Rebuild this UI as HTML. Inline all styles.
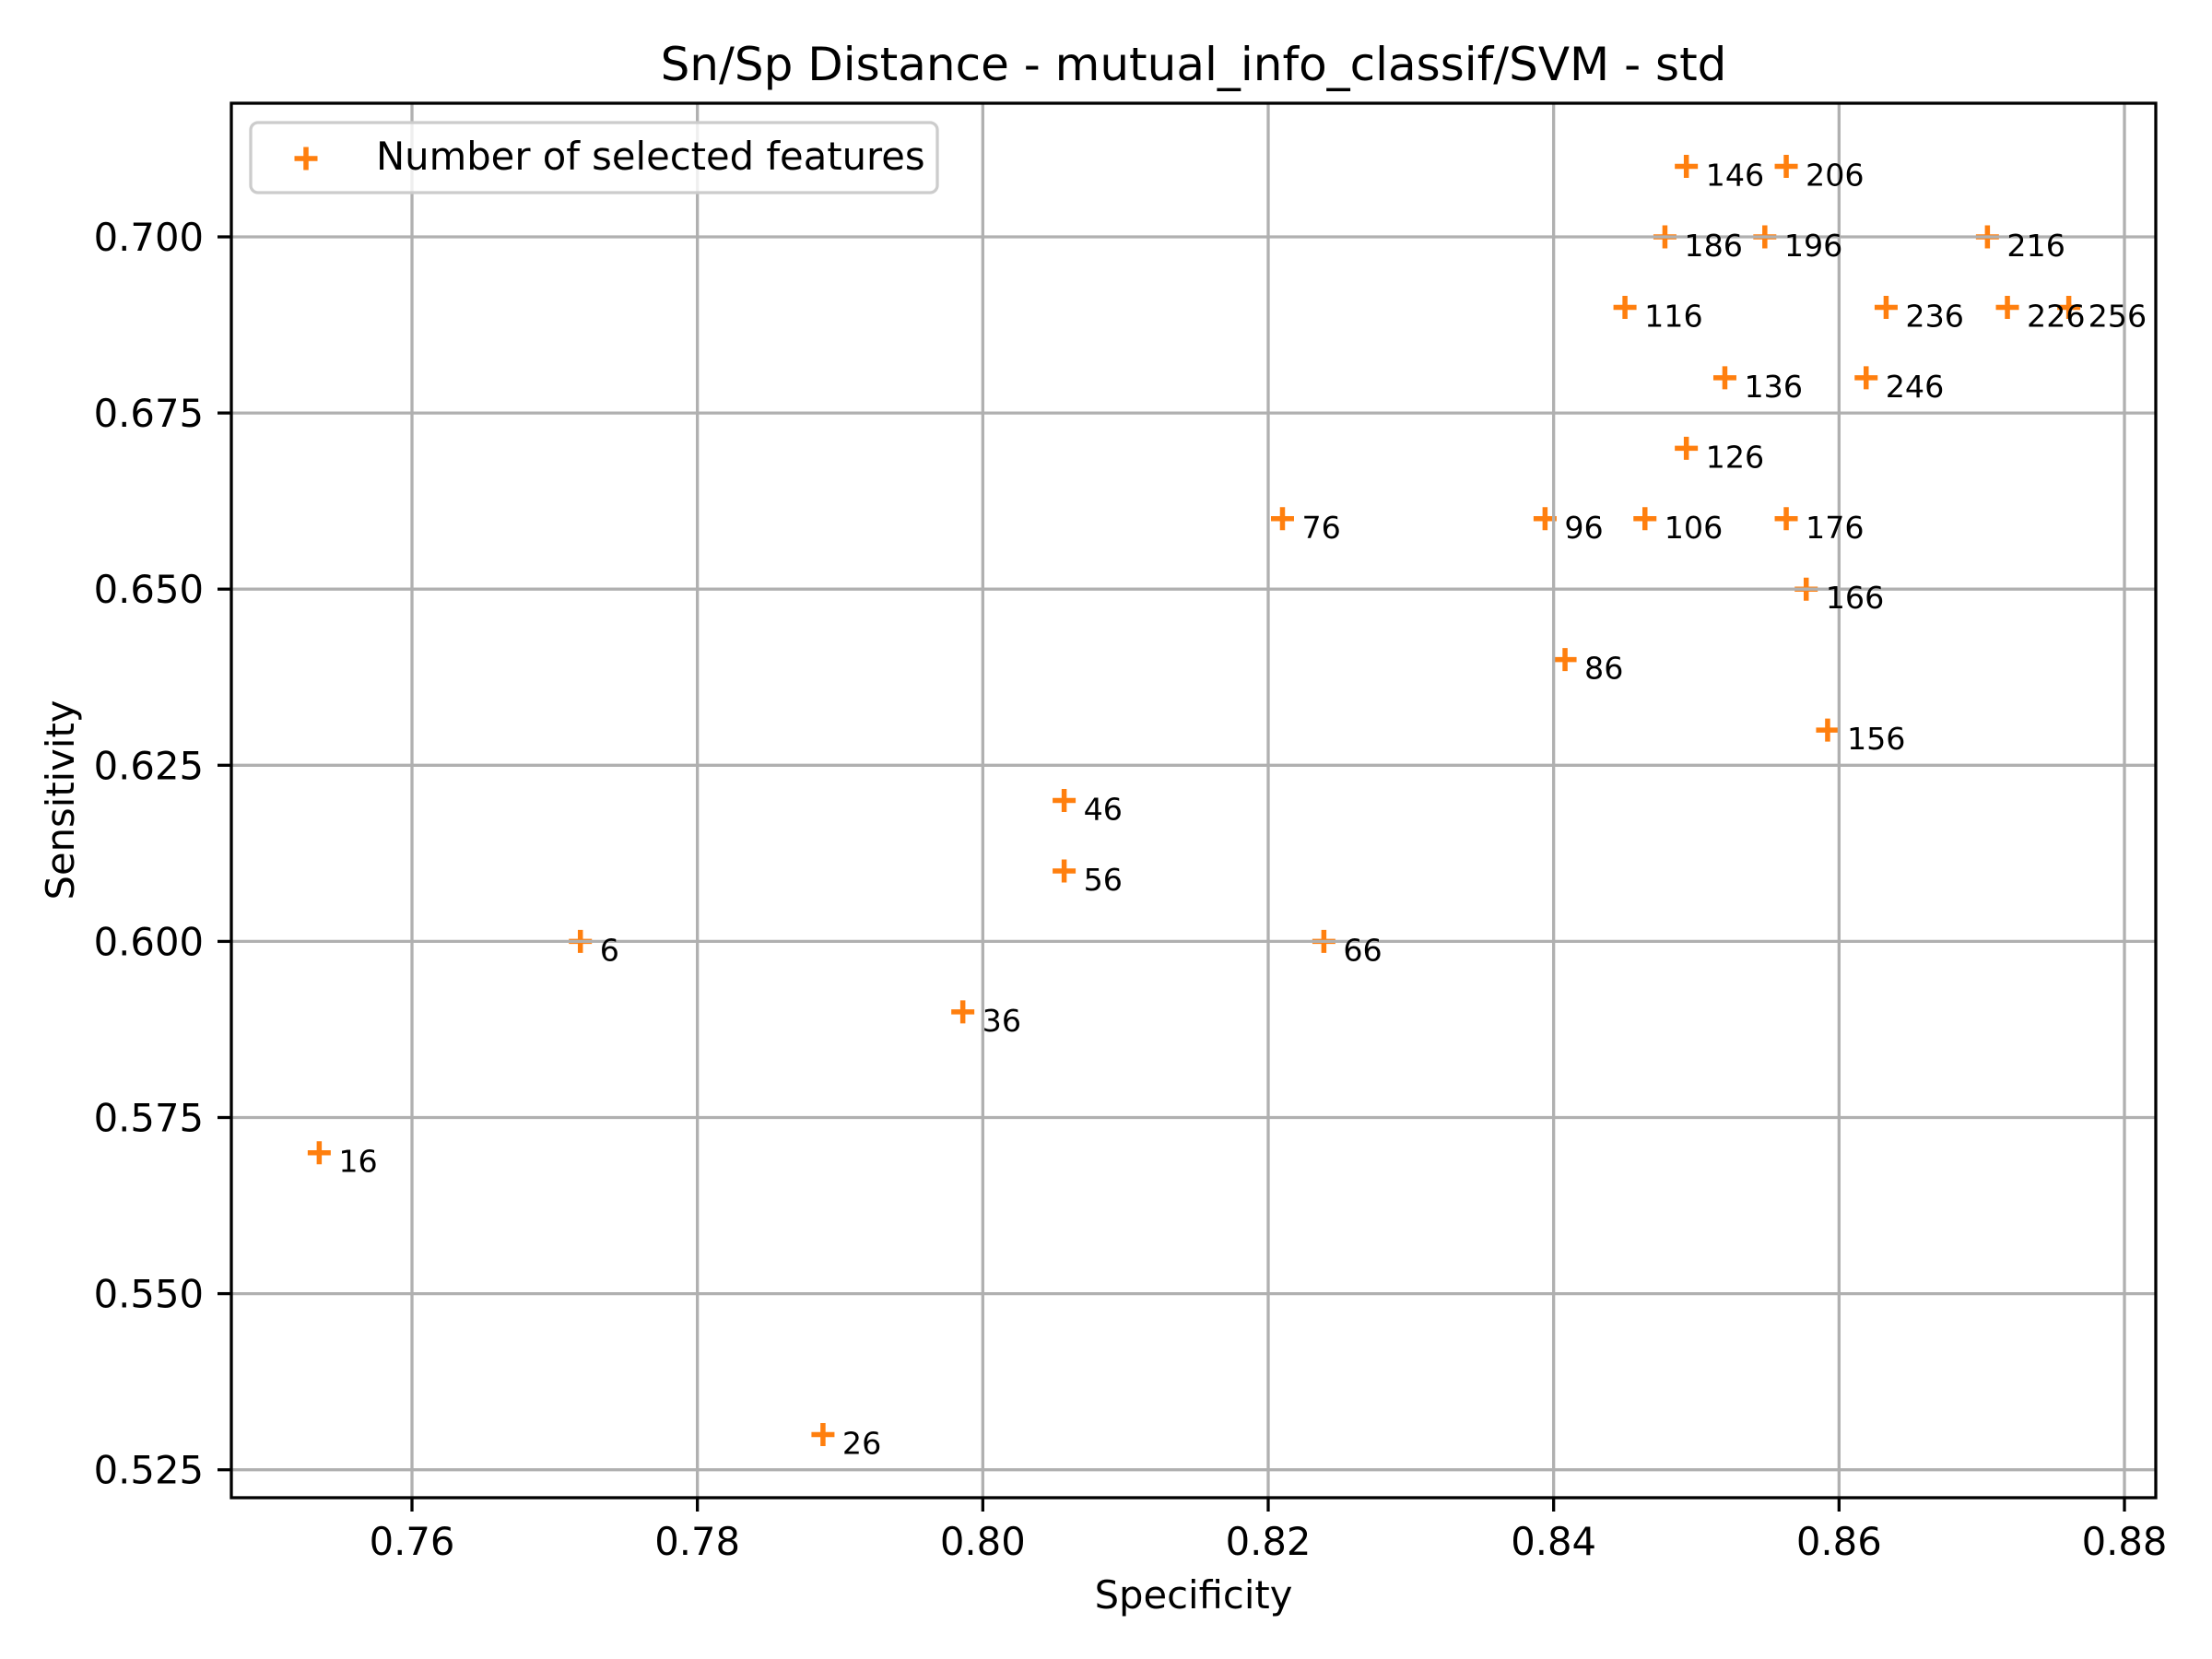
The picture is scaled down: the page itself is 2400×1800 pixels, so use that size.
<!DOCTYPE html>
<html><head><meta charset="utf-8"><style>
html,body{margin:0;padding:0;background:#fff}
svg{display:block}
text{font-family:"DejaVu Sans","Liberation Sans",sans-serif;fill:#000}
</style></head><body>
<svg id="chart" width="2400" height="1800" viewBox="0 0 2400 1800" xmlns="http://www.w3.org/2000/svg">
<rect x="0" y="0" width="2400" height="1800" fill="#fff"/>
<text x="1295" y="87" font-size="50" text-anchor="middle">Sn/Sp Distance - mutual_info_classif/SVM - std</text>
<g id="grid"></g>
<g id="points"></g>
<g id="annots"></g>
<g id="ticks"></g>
<rect x="251" y="112" width="2088" height="1513" fill="none" stroke="#000" stroke-width="3.3"/>
<text x="1295" y="1745" font-size="41.7" text-anchor="middle">Specificity</text>
<text x="0" y="0" font-size="41.7" text-anchor="middle" transform="translate(80,868) rotate(-90)">Sensitivity</text>
<g>
<rect x="272" y="133" width="745" height="76" rx="8" fill="#fff" fill-opacity="0.8" stroke="#cccccc" stroke-width="3.3"/>
<path d="M319.5 172 H344.5 M332 159.5 V184.5" stroke="#ff7f0e" stroke-width="5.5"/>
<text x="408" y="184" font-size="41.7">Number of selected features</text>
</g>
</svg>
<script>
const labels = [6,16,26,36,46,56,66,76,86,96,106,116,126,136,146,156,166,176,186,196,206,216,226,236,246,256];
const specificity = [0.7718,0.7535,0.7888,0.7986,0.8057,0.8057,0.8239,0.8210,0.8408,0.8394,0.8464,0.8450,0.8493,0.8520,0.8493,0.8592,0.8577,0.8563,0.8478,0.8548,0.8563,0.8704,0.8718,0.8633,0.8619,0.8761];
const sensitivity = [0.60,0.57,0.53,0.59,0.62,0.61,0.60,0.66,0.64,0.66,0.66,0.69,0.67,0.68,0.71,0.63,0.65,0.66,0.70,0.70,0.71,0.70,0.69,0.69,0.68,0.69];
const xTicks = [0.76,0.78,0.80,0.82,0.84,0.86,0.88];
const xTickLabels = ["0.76","0.78","0.80","0.82","0.84","0.86","0.88"];
const yTicks = [0.525,0.55,0.575,0.6,0.625,0.65,0.675,0.7];
const yTickLabels = ["0.525","0.550","0.575","0.600","0.625","0.650","0.675","0.700"];

const NS = "http://www.w3.org/2000/svg";
function xs(v){ return 447 + (v - 0.76) / 0.12 * (2305 - 447); }
function ys(v){ return 1594.7 - (v - 0.525) / 0.175 * (1594.7 - 257); }
function mk(tag, attrs){ const e = document.createElementNS(NS, tag); for (const k in attrs) e.setAttribute(k, attrs[k]); return e; }
const grid = document.getElementById('grid');
const ticks = document.getElementById('ticks');
const pts = document.getElementById('points');
const ann = document.getElementById('annots');

xTicks.forEach((t, i) => {
  const x = xs(t);
  const g = mk('line', {x1:x, x2:x, y1:112, y2:1625, stroke:'#b0b0b0', 'stroke-width':3.3});
  
  
  grid.appendChild(g);
  const tk = mk('line', {x1:x, x2:x, y1:1625, y2:1640, stroke:'#000', 'stroke-width':3.3});
  
  
  ticks.appendChild(tk);
  const tx = mk('text', {x:x, y:1687, 'font-size':41.7, 'text-anchor':'middle'});
  tx.textContent = xTickLabels[i];
  
  
  ticks.appendChild(tx);
});
yTicks.forEach((t, i) => {
  const y = ys(t);
  const g = mk('line', {x1:251, x2:2339, y1:y, y2:y, stroke:'#b0b0b0', 'stroke-width':3.3});
  
  
  grid.appendChild(g);
  const tk = mk('line', {x1:236, x2:251, y1:y, y2:y, stroke:'#000', 'stroke-width':3.3});
  
  
  ticks.appendChild(tk);
  const tx = mk('text', {x:221, y:y + 15, 'font-size':41.7, 'text-anchor':'end'});
  tx.textContent = yTickLabels[i];
  
  
  ticks.appendChild(tx);
});
labels.forEach((lab, i) => {
  const x = xs(specificity[i]), y = ys(sensitivity[i]);
  const p = mk('path', {d:`M${x-12.5} ${y} H${x+12.5} M${x} ${y-12.5} V${y+12.5}`, stroke:'#ff7f0e', 'stroke-width':5.5});
  
  
  pts.appendChild(p);
  const t = mk('text', {x:x + 21, y:y + 21, 'font-size':33.3});
  t.textContent = String(lab);
  
  
  ann.appendChild(t);
});
pts.parentNode.insertBefore(pts, grid);
</script>
</body></html>
